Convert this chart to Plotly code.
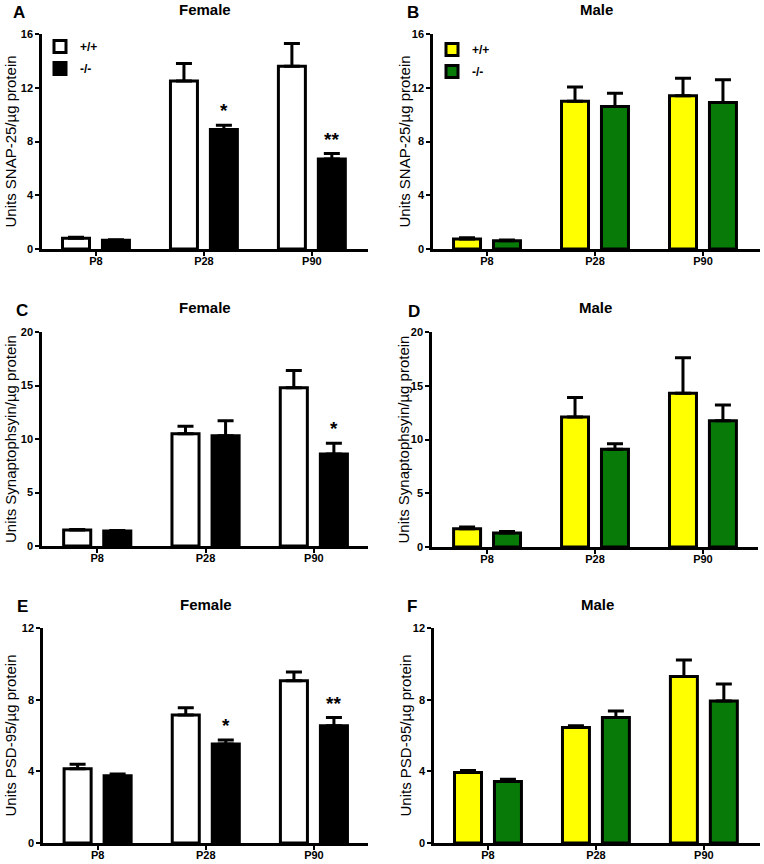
import plotly.graph_objects as go

W, H = 764, 864

categories = ["P8", "P28", "P90"]
genotypes = ["+/+", "-/-"]

# SNAP-25
snap_f_wt = [0.80, 12.5, 13.6]
snap_f_wt_err = [0.07, 1.3, 1.7]
snap_f_ko = [0.65, 8.9, 6.7]
snap_f_ko_err = [0.03, 0.3, 0.4]
snap_m_wt = [0.75, 11.0, 11.4]
snap_m_wt_err = [0.08, 1.05, 1.3]
snap_m_ko = [0.62, 10.6, 10.9]
snap_m_ko_err = [0.05, 1.0, 1.7]

# Synaptophysin
syn_f_wt = [1.5, 10.5, 14.8]
syn_f_wt_err = [0.05, 0.7, 1.6]
syn_f_ko = [1.4, 10.3, 8.6]
syn_f_ko_err = [0.05, 1.4, 1.0]
syn_m_wt = [1.7, 12.1, 14.3]
syn_m_wt_err = [0.15, 1.8, 3.3]
syn_m_ko = [1.3, 9.1, 11.75]
syn_m_ko_err = [0.15, 0.5, 1.45]

# PSD-95
psd_f_wt = [4.15, 7.15, 9.05]
psd_f_wt_err = [0.25, 0.4, 0.5]
psd_f_ko = [3.75, 5.53, 6.55]
psd_f_ko_err = [0.1, 0.22, 0.45]
psd_m_wt = [3.93, 6.44, 9.29]
psd_m_wt_err = [0.12, 0.1, 0.93]
psd_m_ko = [3.43, 7.0, 7.93]
psd_m_ko_err = [0.13, 0.37, 0.94]

# significance marks (on the -/- bar)
snap_f_stars = ["", "*", "**"]
syn_f_stars = ["", "", "*"]
psd_f_stars = ["", "*", "**"]

FONT = "Liberation Sans, Arial, sans-serif"
FEMALE_COLORS = ["#ffffff", "#000000"]
MALE_COLORS = ["#ffff00", "#087a08"]

panels = [
    dict(letter="A", title="Female", ytitle="Units SNAP-25/µg protein",
         wt=snap_f_wt, wte=snap_f_wt_err, ko=snap_f_ko, koe=snap_f_ko_err,
         stars=snap_f_stars, colors=FEMALE_COLORS, ymax=16, dtick=4,
         px=(42, 368), py=(34, 249), xr=(-0.5, 2.52), legend="legend",
         letter_xy=(19, 13), ytitle_x=10),
    dict(letter="B", title="Male", ytitle="Units SNAP-25/µg protein",
         wt=snap_m_wt, wte=snap_m_wt_err, ko=snap_m_ko, koe=snap_m_ko_err,
         stars=None, colors=MALE_COLORS, ymax=16, dtick=4,
         px=(433, 760), py=(34, 249), xr=(-0.5, 2.528), legend="legend2",
         letter_xy=(413, 13), ytitle_x=404),
    dict(letter="C", title="Female", ytitle="Units Synaptophsyin/µg protein",
         wt=syn_f_wt, wte=syn_f_wt_err, ko=syn_f_ko, koe=syn_f_ko_err,
         stars=syn_f_stars, colors=FEMALE_COLORS, ymax=20, dtick=5,
         px=(42, 368), py=(332, 546), xr=(-0.51, 2.5), legend=None,
         letter_xy=(22, 310), ytitle_x=10),
    dict(letter="D", title="Male", ytitle="Units Synaptophsyin/µg protein",
         wt=syn_m_wt, wte=syn_m_wt_err, ko=syn_m_ko, koe=syn_m_ko_err,
         stars=None, colors=MALE_COLORS, ymax=20, dtick=5,
         px=(432, 758), py=(332, 547), xr=(-0.51, 2.51), legend=None,
         letter_xy=(414, 311), ytitle_x=403),
    dict(letter="E", title="Female", ytitle="Units PSD-95/µg protein",
         wt=psd_f_wt, wte=psd_f_wt_err, ko=psd_f_ko, koe=psd_f_ko_err,
         stars=psd_f_stars, colors=FEMALE_COLORS, ymax=12, dtick=4,
         px=(43, 368), py=(628, 843), xr=(-0.505, 2.5), legend=None,
         letter_xy=(22, 606), ytitle_x=10),
    dict(letter="F", title="Male", ytitle="Units PSD-95/µg protein",
         wt=psd_m_wt, wte=psd_m_wt_err, ko=psd_m_ko, koe=psd_m_ko_err,
         stars=None, colors=MALE_COLORS, ymax=12, dtick=4,
         px=(434, 760), py=(628, 843), xr=(-0.5, 2.52), legend=None,
         letter_xy=(412, 606), ytitle_x=405),
]

BAR_W = 0.25
OFFSETS = [-0.31, 0.06]
xpos = list(range(len(categories)))

fig = go.Figure()
annotations = []
layout = {}

for i, p in enumerate(panels):
    n = "" if i == 0 else str(i + 1)
    xa, ya = "x" + n, "y" + n
    for g, (vals, errs) in enumerate([(p["wt"], p["wte"]), (p["ko"], p["koe"])]):
        kw = {}
        if p["legend"]:
            kw["legend"] = p["legend"]
        fig.add_trace(go.Bar(
            x=xpos, y=vals, name=genotypes[g], xaxis=xa, yaxis=ya,
            width=BAR_W, offset=OFFSETS[g], legendgroup=f"g{i}_{g}",
            marker=dict(color=p["colors"][g], line=dict(color="black", width=3)),
            error_y=dict(type="data", array=errs, arrayminus=[0] * len(errs),
                         symmetric=False, color="black", thickness=3, width=8),
            showlegend=bool(p["legend"]), **kw))
    if p["stars"]:
        for j, s in enumerate(p["stars"]):
            if s:
                annotations.append(dict(
                    x=xpos[j] + OFFSETS[1] + BAR_W / 2, y=p["ko"][j] + p["koe"][j],
                    xref=xa, yref=ya, text="<b>" + s + "</b>", showarrow=False,
                    yanchor="bottom", xanchor="center", yshift=2,
                    font=dict(family=FONT, size=19, color="black")))
    x0, x1 = p["px"]
    y0, y1 = p["py"]
    layout["xaxis" + n] = dict(
        domain=[x0 / W, x1 / W], range=list(p["xr"]), anchor=ya, automargin=False,
        tickvals=xpos, ticktext=categories, showline=True, linecolor="black",
        linewidth=2.5, ticks="outside", ticklen=4, tickwidth=2, tickcolor="black",
        ticklabelstandoff=-4, showgrid=False, zeroline=False,
        tickfont=dict(family=FONT, size=11, color="black", weight="bold"))
    layout["yaxis" + n] = dict(
        domain=[1 - y1 / H, 1 - y0 / H], range=[0, p["ymax"]], dtick=p["dtick"],
        anchor=xa, automargin=False, showline=True, linecolor="black", linewidth=2.5,
        ticks="outside", ticklen=4, tickwidth=2, tickcolor="black",
        showgrid=False, zeroline=False,
        tickfont=dict(family=FONT, size=11, color="black", weight="bold"))
    # y-axis title
    annotations.append(dict(
        x=p["ytitle_x"] / W, y=1 - (y0 + y1) / 2 / H, xref="paper", yref="paper",
        text=p["ytitle"], textangle=-90, showarrow=False,
        xanchor="center", yanchor="middle",
        font=dict(family=FONT, size=15, color="black")))
    # panel title
    annotations.append(dict(
        x=(x0 + x1) / 2 / W, y=1 - (y0 - 24) / H, xref="paper", yref="paper",
        text="<b>" + p["title"] + "</b>", showarrow=False,
        xanchor="center", yanchor="middle",
        font=dict(family=FONT, size=15, color="black")))
    # panel letter
    lx, ly = p["letter_xy"]
    annotations.append(dict(
        x=lx / W, y=1 - ly / H, xref="paper", yref="paper",
        text="<b>" + p["letter"] + "</b>", showarrow=False,
        xanchor="center", yanchor="middle",
        font=dict(family=FONT, size=17, color="black")))

legend_common = dict(xanchor="left", yanchor="top", bgcolor="rgba(0,0,0,0)",
                     font=dict(family=FONT, size=12, color="black", weight="bold"),
                     itemwidth=30, tracegroupgap=3)
layout["legend"] = dict(x=40 / W, y=1 - 32 / H, **legend_common)
layout["legend2"] = dict(x=432 / W, y=1 - 35 / H, **legend_common)

fig.update_layout(
    template="none",
    width=W, height=H, margin=dict(l=0, r=0, t=0, b=0, pad=0),
    paper_bgcolor="white", plot_bgcolor="white", barmode="overlay",
    font=dict(family=FONT, color="black"),
    annotations=annotations, **layout)

fig.write_html("out.html", config={"displayModeBar": False},
               post_script="document.body.style.margin='0px';")
